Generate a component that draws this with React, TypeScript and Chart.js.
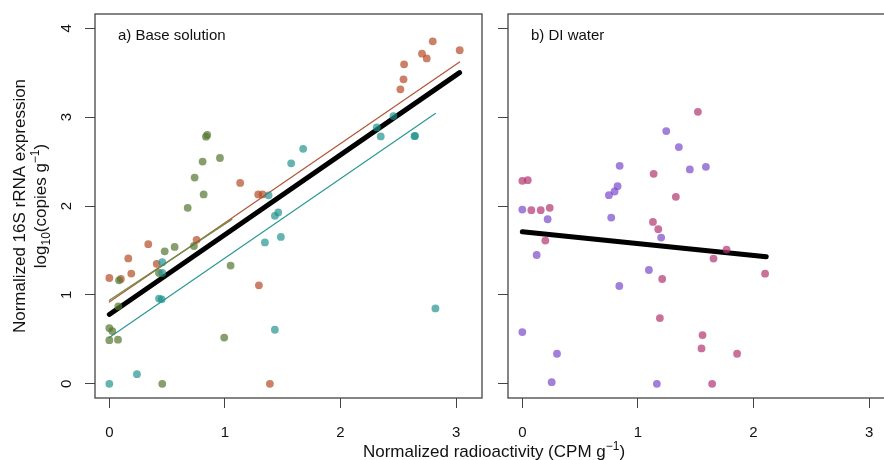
import React, { useEffect, useRef } from "react";
import { Chart, registerables } from "chart.js";

Chart.register(...registerables);

const FONT = '"Liberation Sans", Arial, Helvetica, sans-serif';

const xTickValues = [0, 1, 2, 3];
const yTickValues = [0, 1, 2, 3, 4];
const xLimits = [-0.124, 3.224];
const yLimits = [-0.16, 4.16];

const panelATitle = "a) Base solution";
const panelBTitle = "b) DI water";
const xTitleMain = "Normalized radioactivity (CPM g";
const yTitleLine1 = "Normalized 16S rRNA expression";

// Panel a: orange series
const aOrangeX = [0, 0.1, 0.164, 0.19, 0.337, 0.41, 0.755, 1.132, 1.288, 1.326, 1.294, 1.389, 2.518, 2.545, 2.55, 2.705, 2.746, 2.798, 3.031];
const aOrangeY = [1.19, 1.18, 1.41, 1.24, 1.57, 1.35, 1.62, 2.26, 2.13, 2.13, 1.108, 0, 3.313, 3.425, 3.594, 3.714, 3.66, 3.853, 3.752];
// Panel a: green series
const aGreenX = [0.084, 0.479, 0.565, 0.732, 0.43, 0.078, 0, 0.026, 0, 0.075, 0.994, 1.049, 0.458, 0.678, 0.836, 0.847, 0.807, 0.957, 0.738, 0.816];
const aGreenY = [1.164, 1.49, 1.54, 1.55, 1.246, 0.87, 0.627, 0.593, 0.49, 0.496, 0.52, 1.33, 0, 1.98, 2.78, 2.8, 2.5, 2.54, 2.32, 2.13];
// Panel a: teal series
const aTealX = [0.458, 0.458, 0.43, 0.453, 0, 0.239, 1.346, 1.432, 1.461, 1.484, 1.432, 1.378, 1.573, 1.677, 2.314, 2.348, 2.458, 2.64, 2.645, 2.821];
const aTealY = [1.367, 1.246, 0.958, 0.95, 0, 0.108, 1.59, 1.89, 1.927, 1.652, 0.608, 2.12, 2.48, 2.643, 2.884, 2.783, 3.012, 2.786, 2.79, 0.848];

// Panel a: fitted lines
const aFitAllX = [0, 3.03];
const aFitAllY = [0.78, 3.5];
const aFitOrangeX = [0, 3.03];
const aFitOrangeY = [0.92, 3.62];
const aFitGreenX = [0, 1.06];
const aFitGreenY = [0.94, 1.85];
const aFitTealX = [0, 2.82];
const aFitTealY = [0.52, 3.04];

// Panel b: purple series
const bPurpleX = [1.245, 1.354, 1.449, 0.842, 0.824, 0.798, 0.749, 0.769, 0, 0.219, 0.124, 1.201, 1.095, 0.839, 0, 0.3, 0.254, 1.164, 1.588];
const bPurpleY = [2.843, 2.663, 2.411, 2.452, 2.223, 2.163, 2.122, 1.87, 1.96, 1.851, 1.449, 1.645, 1.28, 1.1, 0.582, 0.338, 0.018, 0, 2.441];
// Panel b: pink series
const bPinkX = [0, 0.047, 0.078, 0.159, 0.237, 0.199, 1.136, 1.328, 1.13, 1.176, 1.21, 1.19, 1.519, 1.767, 1.654, 2.1, 1.559, 1.55, 1.858, 1.642];
const bPinkY = [2.283, 2.29, 1.953, 1.953, 1.979, 1.611, 2.362, 2.103, 1.821, 1.739, 1.179, 0.739, 3.06, 1.51, 1.408, 1.239, 0.548, 0.398, 0.338, 0];
// Panel b: fitted line
const bFitX = [0, 2.11];
const bFitY = [1.71, 1.43];

const pts = (xs: number[], ys: number[]) => xs.map((x, i) => ({ x, y: ys[i] }));

function pointSet(xs: number[], ys: number[], color: string) {
  return {
    type: "scatter",
    data: pts(xs, ys),
    backgroundColor: color,
    borderColor: color,
    borderWidth: 0,
    pointRadius: 3.9,
    pointHoverRadius: 3.9,
    showLine: false,
    order: 0,
  };
}

function lineSet(xs: number[], ys: number[], color: string, width: number) {
  return {
    type: "scatter",
    data: pts(xs, ys),
    borderColor: color,
    backgroundColor: color,
    borderWidth: width,
    pointRadius: 0,
    pointHoverRadius: 0,
    showLine: true,
    fill: false,
    borderCapStyle: "round",
    order: 1,
  };
}

type Part = { t: string; size: number; dy: number };

function drawParts(ctx: CanvasRenderingContext2D, parts: Part[], cx: number, baseY: number) {
  let total = 0;
  const widths = parts.map((p) => {
    ctx.font = `${p.size}px ${FONT}`;
    const w = ctx.measureText(p.t).width;
    total += w;
    return w;
  });
  let x = cx - total / 2;
  ctx.textAlign = "left";
  ctx.textBaseline = "alphabetic";
  parts.forEach((p, i) => {
    ctx.font = `${p.size}px ${FONT}`;
    ctx.fillText(p.t, x, baseY + p.dy);
    x += widths[i];
  });
}

function makeScales(yWidth: number) {
  const grid = {
    display: true,
    drawOnChartArea: false,
    drawTicks: true,
    tickLength: 10,
    color: "#444",
    tickColor: "#444",
    lineWidth: 1,
  };
  return {
    x: {
      type: "linear",
      min: xLimits[0],
      max: xLimits[1],
      afterBuildTicks: (s: any) => {
        s.ticks = xTickValues.map((v) => ({ value: v }));
      },
      afterFit: (s: any) => {
        s.height = 62;
      },
      grid,
      border: { display: false },
      ticks: {
        font: { size: 15, family: FONT },
        color: "#111",
        padding: 16,
        maxRotation: 0,
        minRotation: 0,
        autoSkip: false,
        callback: (v: any) => String(v),
      },
    },
    y: {
      type: "linear",
      min: yLimits[0],
      max: yLimits[1],
      afterBuildTicks: (s: any) => {
        s.ticks = yTickValues.map((v) => ({ value: v }));
      },
      afterFit: (s: any) => {
        s.width = yWidth;
      },
      grid,
      border: { display: false },
      ticks: { display: false },
    },
  };
}

function decorPlugin(label: string, isLeft: boolean) {
  return {
    id: "decor" + (isLeft ? "L" : "R"),
    afterDraw(chart: any) {
      const { ctx, chartArea: a, scales } = chart;
      ctx.save();
      ctx.strokeStyle = "#444";
      ctx.lineWidth = 1.3;
      ctx.strokeRect(a.left, a.top, a.right - a.left, a.bottom - a.top);
      ctx.fillStyle = "#111";
      ctx.font = `15px ${FONT}`;
      ctx.textAlign = "left";
      ctx.textBaseline = "alphabetic";
      ctx.fillText(label, a.left + 23, a.top + 26);
      if (isLeft) {
        // rotated y tick labels
        for (const t of scales.y.ticks) {
          const py = scales.y.getPixelForValue(t.value);
          ctx.save();
          ctx.translate(a.left - 24, py);
          ctx.rotate(-Math.PI / 2);
          ctx.font = `15px ${FONT}`;
          ctx.textAlign = "center";
          ctx.textBaseline = "alphabetic";
          ctx.fillText(String(t.value), 0, 0);
          ctx.restore();
        }
        const cy = (a.top + a.bottom) / 2;
        ctx.save();
        ctx.translate(a.left - 70, cy);
        ctx.rotate(-Math.PI / 2);
        drawParts(ctx, [{ t: yTitleLine1, size: 17, dy: 0 }], 0, 0);
        ctx.restore();
        ctx.save();
        ctx.translate(a.left - 49, cy);
        ctx.rotate(-Math.PI / 2);
        drawParts(
          ctx,
          [
            { t: "log", size: 17, dy: 0 },
            { t: "10", size: 12, dy: 4 },
            { t: "(copies g", size: 17, dy: 0 },
            { t: "\u22121", size: 12, dy: -7 },
            { t: ")", size: 17, dy: 0 },
          ],
          0,
          0
        );
        ctx.restore();
        // x title spanning both panels
        drawParts(
          ctx,
          [
            { t: xTitleMain, size: 17, dy: 0 },
            { t: "\u22121", size: 12, dy: -7 },
            { t: ")", size: 17, dy: 0 },
          ],
          494,
          457
        );
      }
      ctx.restore();
    },
  };
}

function makeConfig(datasets: any[], yWidth: number, padRight: number, label: string, isLeft: boolean): any {
  return {
    type: "scatter",
    data: { datasets },
    options: {
      responsive: false,
      animation: false,
      devicePixelRatio: 1,
      layout: { padding: { left: 0, right: padRight, top: 14, bottom: 0 } },
      plugins: { legend: { display: false }, tooltip: { enabled: false } },
      events: [],
      scales: makeScales(yWidth),
    },
    plugins: [decorPlugin(label, isLeft)],
  };
}

const ORANGE_PT = "rgba(180,75,40,0.7)";
const GREEN_PT = "rgba(82,118,45,0.7)";
const TEAL_PT = "rgba(30,145,140,0.68)";
const PURPLE_PT = "rgba(122,72,202,0.7)";
const PINK_PT = "rgba(178,52,112,0.7)";

export default function App() {
  const leftRef = useRef<HTMLCanvasElement>(null);
  const rightRef = useRef<HTMLCanvasElement>(null);

  useEffect(() => {
    const leftSets = [
      pointSet(aTealX, aTealY, TEAL_PT),
      pointSet(aGreenX, aGreenY, GREEN_PT),
      pointSet(aOrangeX, aOrangeY, ORANGE_PT),
      lineSet(aFitAllX, aFitAllY, "#000", 5),
      lineSet(aFitGreenX, aFitGreenY, "#6e8f45", 1.3),
      lineSet(aFitOrangeX, aFitOrangeY, "#b4583a", 1.3),
      lineSet(aFitTealX, aFitTealY, "#2f9a98", 1.3),
    ];
    const rightSets = [
      pointSet(bPinkX, bPinkY, PINK_PT),
      pointSet(bPurpleX, bPurpleY, PURPLE_PT),
      lineSet(bFitX, bFitY, "#000", 5),
    ];
    const c1 = new Chart(leftRef.current as HTMLCanvasElement, makeConfig(leftSets, 95, 884 - 482, panelATitle, true));
    const c2 = new Chart(rightRef.current as HTMLCanvasElement, makeConfig(rightSets, 18, 15, panelBTitle, false));
    return () => {
      c1.destroy();
      c2.destroy();
    };
  }, []);

  return (
    <div
      style={{
        position: "absolute",
        left: 0,
        top: 0,
        width: 884,
        height: 460,
        overflow: "hidden",
        background: "#fff",
      }}
    >
      <canvas
        ref={leftRef}
        width={884}
        height={460}
        style={{ position: "absolute", left: 0, top: 0, width: 884, height: 460 }}
      />
      <canvas
        ref={rightRef}
        width={420}
        height={460}
        style={{ position: "absolute", left: 490, top: 0, width: 420, height: 460 }}
      />
    </div>
  );
}
